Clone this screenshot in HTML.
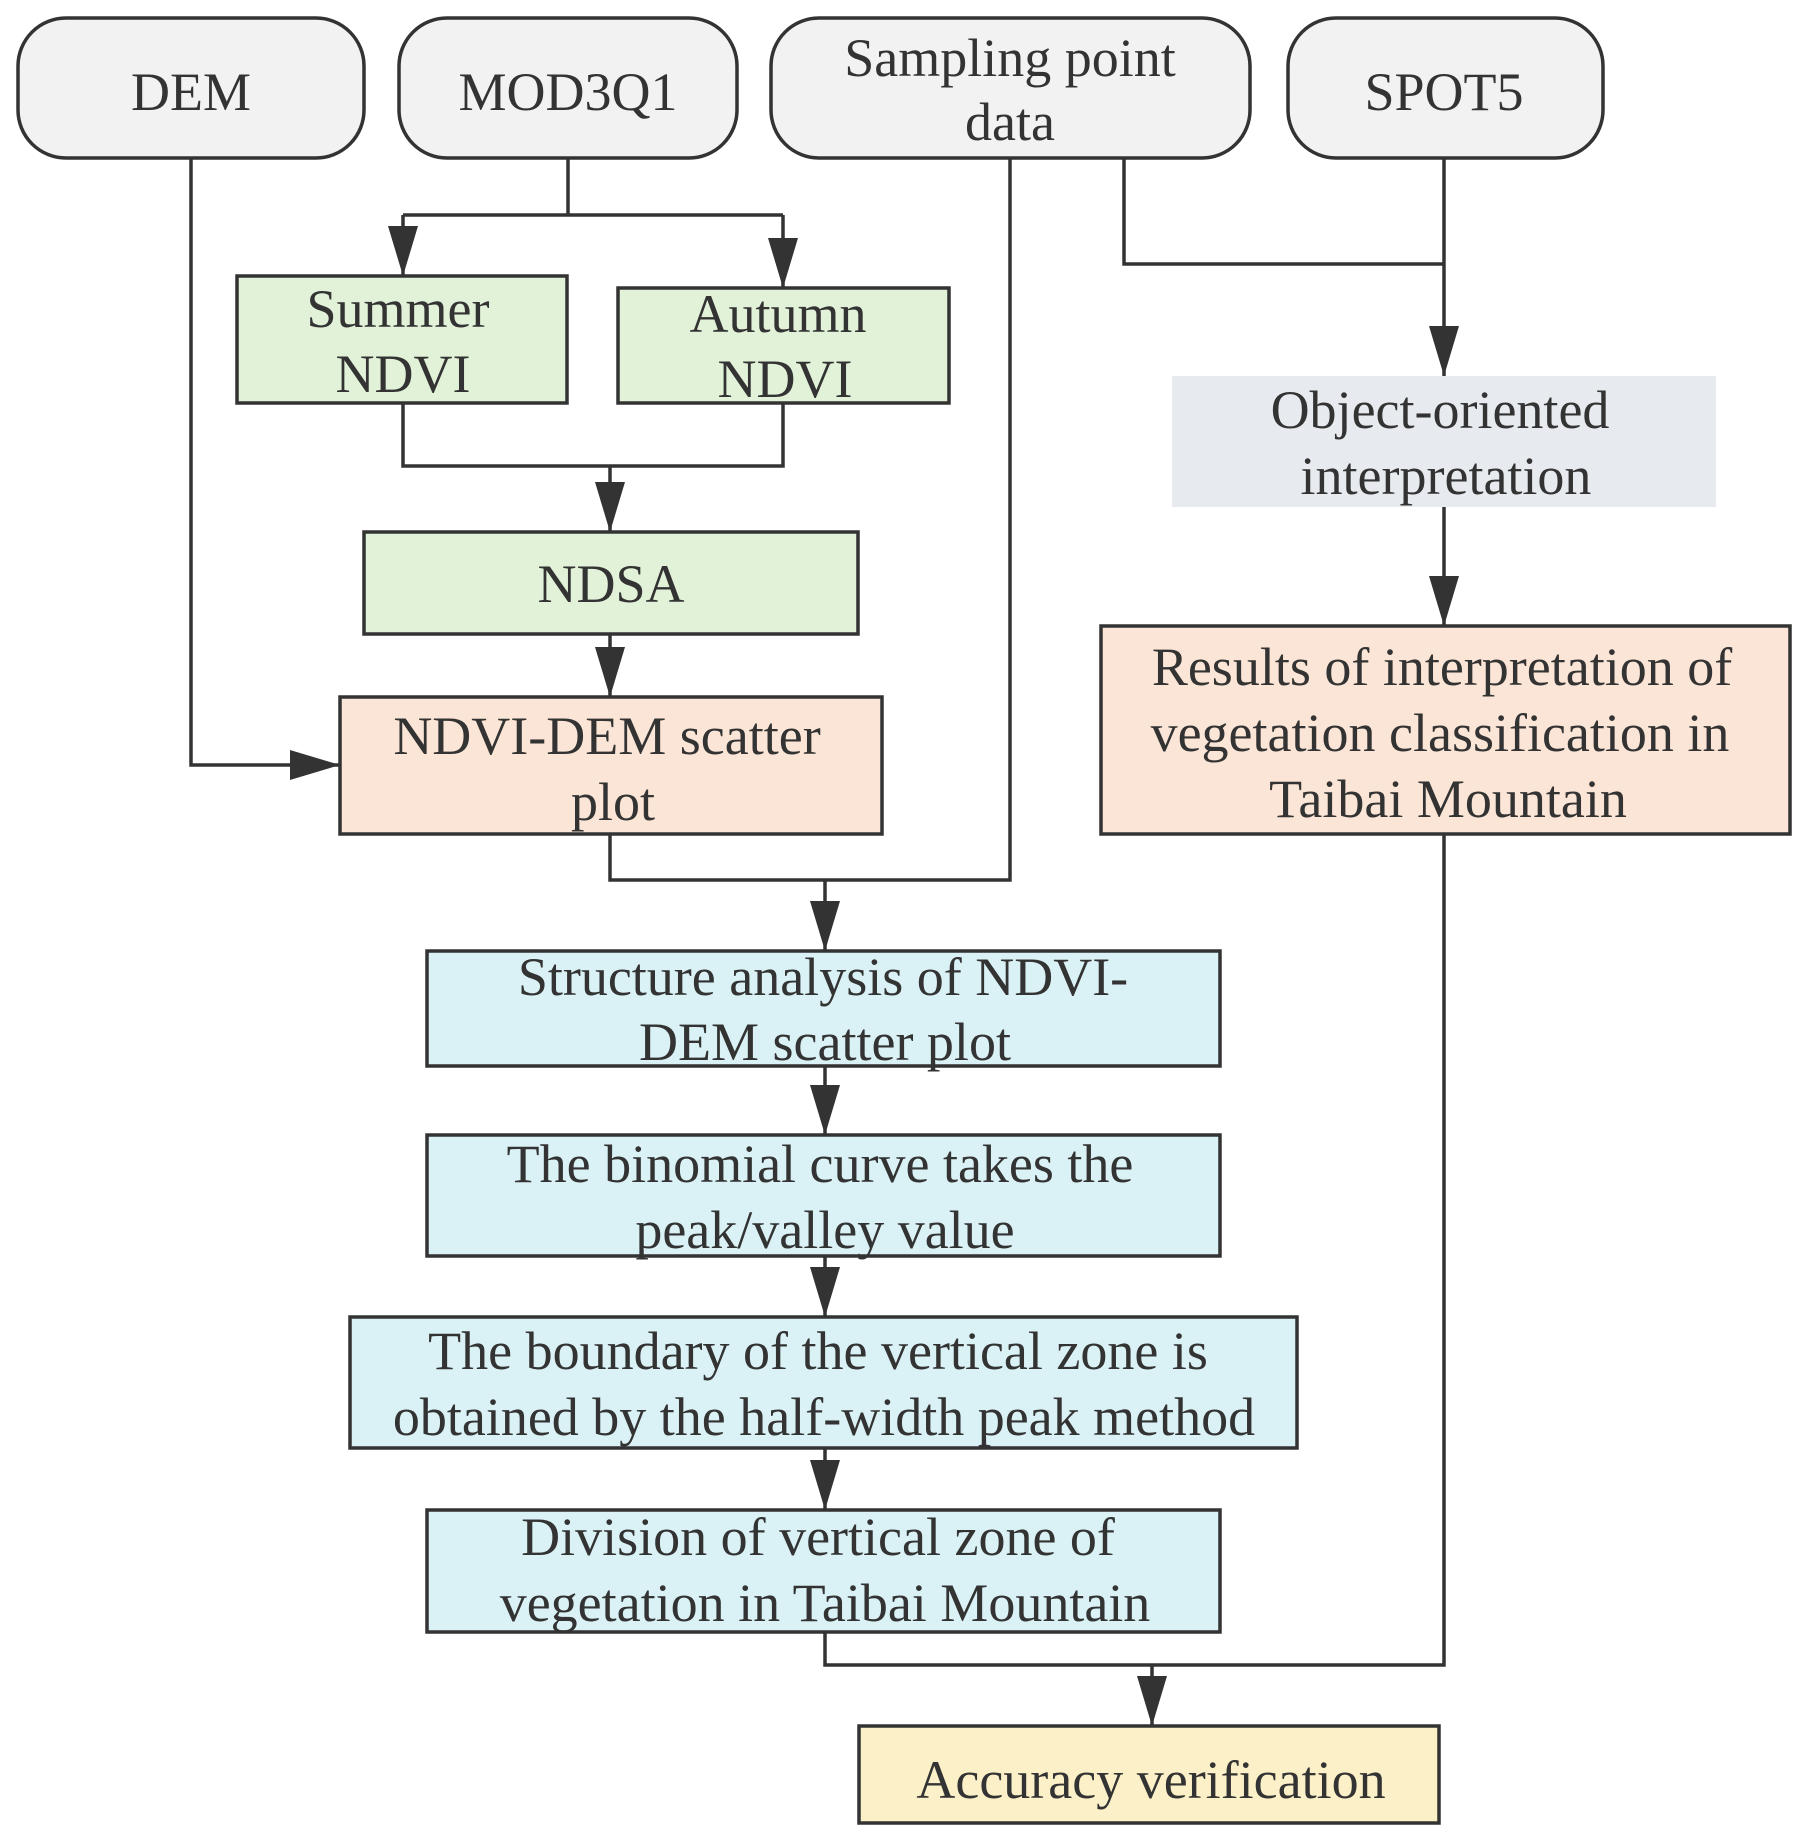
<!DOCTYPE html>
<html><head><meta charset="utf-8"><style>
html,body{margin:0;padding:0;background:#fff}
svg text{font-family:"Liberation Serif",serif;font-size:54px;fill:#333;text-anchor:middle}
</style></head><body>
<svg width="1808" height="1843" viewBox="0 0 1808 1843" xmlns="http://www.w3.org/2000/svg">
<defs>
<marker id="b" markerWidth="50" markerHeight="30" refX="50" refY="15" orient="auto" markerUnits="userSpaceOnUse" viewBox="0 0 50 30"><path d="M0,0 L50,15 L0,30 Z" fill="#333"/></marker></defs>
<g stroke="#333" stroke-width="3.5" fill="none">
<path d="M568,158 V215 M403,215 H783"/>
<path d="M403,215 V276" marker-end="url(#b)"/>
<path d="M783,215 V288" marker-end="url(#b)"/>
<path d="M403,403 V466 H783 V403 M610,466 V532" marker-end="url(#b)"/>
<path d="M610,634 V697" marker-end="url(#b)"/>
<path d="M191,158 V765 H340" marker-end="url(#b)"/>
<path d="M1010,158 V880 H610 V834"/>
<path d="M825,880 V951" marker-end="url(#b)"/>
<path d="M1124,158 V264 H1444"/>
<path d="M1444,158 V376" marker-end="url(#b)"/>
<path d="M1444,507 V626" marker-end="url(#b)"/>
<path d="M825,1066 V1135" marker-end="url(#b)"/>
<path d="M825,1256 V1317" marker-end="url(#b)"/>
<path d="M825,1448 V1510" marker-end="url(#b)"/>
<path d="M1444,834 V1665 H825 V1632"/>
<path d="M1152,1665 V1726" marker-end="url(#b)"/>
</g>
<g stroke="#333" stroke-width="3.5">
<rect x="18" y="18" width="346" height="140" rx="48" fill="#f2f2f2"/>
<rect x="399" y="18" width="338" height="140" rx="48" fill="#f2f2f2"/>
<rect x="771" y="18" width="479" height="140" rx="48" fill="#f2f2f2"/>
<rect x="1288" y="18" width="315" height="140" rx="48" fill="#f2f2f2"/>
<rect x="237" y="276" width="330" height="127" fill="#e2f2d9"/>
<rect x="618" y="288" width="331" height="115" fill="#e2f2d9"/>
<rect x="364" y="532" width="494" height="102" fill="#e2f2d9"/>
<rect x="340" y="697" width="542" height="137" fill="#fbe5d6"/>
<rect x="1101" y="626" width="689" height="208" fill="#fbe5d6"/>
<rect x="427" y="951" width="793" height="115" fill="#daf2f5"/>
<rect x="427" y="1135" width="793" height="121" fill="#daf2f5"/>
<rect x="350" y="1317" width="947" height="131" fill="#daf2f5"/>
<rect x="427" y="1510" width="793" height="122" fill="#daf2f5"/>
<rect x="859" y="1726" width="580" height="97" fill="#fbf0c7"/>
</g>
<rect x="1172" y="376" width="544" height="131" fill="#e7eaee"/>
<text x="191" y="110">DEM</text>
<text x="568" y="110">MOD3Q1</text>
<text x="1010" y="76">Sampling point</text>
<text x="1010" y="140">data</text>
<text x="1444" y="110">SPOT5</text>
<text x="398" y="327">Summer</text>
<text x="403" y="392">NDVI</text>
<text x="778" y="332">Autumn</text>
<text x="785" y="397">NDVI</text>
<text x="611" y="602">NDSA</text>
<text x="607" y="754">NDVI-DEM scatter</text>
<text x="613" y="820">plot</text>
<text x="1440" y="428">Object-oriented</text>
<text x="1446" y="494">interpretation</text>
<text x="1442" y="685">Results of interpretation of</text>
<text x="1440" y="751">vegetation classification in</text>
<text x="1448" y="817">Taibai Mountain</text>
<text x="823" y="995">Structure analysis of NDVI-</text>
<text x="825" y="1060">DEM scatter plot</text>
<text x="820" y="1182">The binomial curve takes the</text>
<text x="825" y="1248">peak/valley value</text>
<text x="818" y="1369">The boundary of the vertical zone is</text>
<text x="824" y="1435">obtained by the half-width peak method</text>
<text x="818" y="1555">Division of vertical zone of</text>
<text x="825" y="1621">vegetation in Taibai Mountain</text>
<text x="1151" y="1798">Accuracy verification</text>
</svg>
</body></html>
